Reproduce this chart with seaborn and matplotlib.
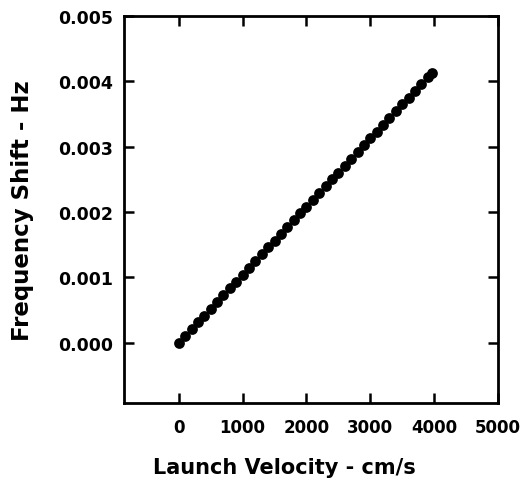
import numpy as np
import pandas as pd
import matplotlib
matplotlib.use("Agg")
import matplotlib.pyplot as plt
import seaborn as sns

# launch velocity (cm/s) and frequency shift (Hz)
velocity = [0, 100, 200, 300, 400, 500, 600, 700, 800, 900,
            1000, 1100, 1200, 1300, 1400, 1500, 1600, 1700, 1800, 1900,
            2000, 2100, 2200, 2300, 2400, 2500, 2600, 2700, 2800, 2900,
            3000, 3100, 3200, 3300, 3400, 3500, 3600, 3700, 3800, 3900, 3960]
shift = [0.0, 0.000104, 0.000208, 0.000313, 0.000417, 0.000521, 0.000625, 0.000729, 0.000834, 0.000938,
         0.001042, 0.001146, 0.001250, 0.001355, 0.001459, 0.001563, 0.001667, 0.001771, 0.001876, 0.001980,
         0.002084, 0.002188, 0.002292, 0.002397, 0.002501, 0.002605, 0.002709, 0.002813, 0.002918, 0.003022,
         0.003126, 0.003230, 0.003334, 0.003439, 0.003543, 0.003647, 0.003751, 0.003855, 0.003960, 0.004064, 0.004126]
x_ticks = [0, 1000, 2000, 3000, 4000, 5000]
y_ticks = [0.000, 0.001, 0.002, 0.003, 0.004, 0.005]

df = pd.DataFrame({"velocity": velocity, "shift": shift})

sns.set_style("ticks")
plt.rcParams['font.family'] = ['DejaVu Sans']
plt.rcParams['font.weight'] = 'bold'

fig = plt.figure(figsize=(5.23, 4.85), dpi=100)
ax = fig.add_axes([0.237, 0.167, 0.715, 0.798])

sns.scatterplot(data=df, x="velocity", y="shift", ax=ax, color="black",
                s=60, edgecolor="black", linewidth=0, zorder=3)

ax.set_xlim(-860, 5000)
ax.set_ylim(-0.00092, 0.005)
ax.set_xticks(x_ticks)
ax.set_yticks(y_ticks)
ax.set_xticklabels([str(t) for t in x_ticks], fontsize=12, fontweight='bold')
ax.set_yticklabels(["%.3f" % t for t in y_ticks], fontsize=12.5, fontweight='bold')
ax.tick_params(direction="in", length=7, width=1.8, top=True, right=True,
               color="black", labelcolor="black")
ax.tick_params(axis="y", pad=8)
ax.tick_params(axis="x", pad=11)
for sp in ax.spines.values():
    sp.set_linewidth(2)
    sp.set_color("black")
    sp.set_visible(True)

ax.set_xlabel("Launch Velocity - cm/s", fontsize=15, fontweight='bold', color="black")
ax.xaxis.set_label_coords(0.43, -0.14)
ax.set_ylabel("Frequency Shift - Hz", fontsize=16.5, fontweight='bold', labelpad=17, color="black")

fig.savefig("out.png", dpi=100)
